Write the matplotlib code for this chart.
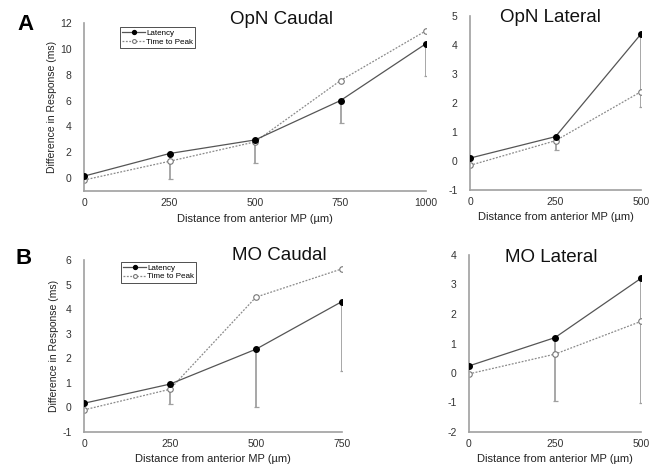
import numpy as np
import matplotlib
matplotlib.use("Agg")
import matplotlib.pyplot as plt

plt.rcParams['font.family'] = ['Liberation Sans', 'DejaVu Sans']
plt.rcParams['axes.unicode_minus'] = False

# OpN Caudal
opn_caudal_x = [0, 250, 500, 750, 1000]
opn_caudal_latency = [0.15, 1.9, 2.95, 6.0, 10.4]
opn_caudal_ttp = [-0.15, 1.3, 2.8, 7.55, 11.4]
opn_caudal_err = [0.0, 2.0, 1.75, 1.75, 2.5]

# OpN Lateral
opn_lateral_x = [0, 250, 500]
opn_lateral_latency = [0.1, 0.84, 4.38]
opn_lateral_ttp = [-0.15, 0.7, 2.39]
opn_lateral_err = [0.0, 0.46, 2.53]

# MO Caudal
mo_caudal_x = [0, 250, 500, 750]
mo_caudal_latency = [0.17, 0.95, 2.37, 4.31]
mo_caudal_ttp = [-0.1, 0.74, 4.49, 5.64]
mo_caudal_err = [0.0, 0.81, 2.34, 2.84]

# MO Lateral
mo_lateral_x = [0, 250, 500]
mo_lateral_latency = [0.24, 1.2, 3.21]
mo_lateral_ttp = [-0.03, 0.64, 1.75]
mo_lateral_err = [0.0, 2.16, 4.21]

W, H = 659, 467
fig = plt.figure(figsize=(W / 100, H / 100), dpi=100)


def px_axes(x0, x1, ytop, ybot):
    return fig.add_axes([x0 / W, 1 - ybot / H, (x1 - x0) / W, (ybot - ytop) / H])


def draw(ax, x, lat, ttp, err, xlim, ylim, yticks, ylabel=False):
    x = np.array(x)
    err = np.array(err)
    ax.errorbar(x, lat, yerr=[err, np.zeros_like(err)], fmt='none',
                ecolor='#a0a0a0', elinewidth=1.3, capsize=1.8, capthick=0.9, zorder=1)
    ax.plot(x, ttp, linestyle=(0, (1.5, 1.2)), color='#8a8a8a', lw=0.9,
            marker='o', ms=4, mfc='white', mec='#777777', mew=0.8,
            label='Time to Peak', zorder=2)
    ax.plot(x, lat, linestyle='-', color='#555555', lw=0.9,
            marker='o', ms=4, mfc='black', mec='black',
            label='Latency', zorder=3)
    ax.set_xlim(*xlim)
    ax.set_ylim(*ylim)
    ax.set_xticks(x)
    ax.set_yticks(yticks)
    for s in ['top', 'right']:
        ax.spines[s].set_visible(False)
    for s in ['left', 'bottom']:
        ax.spines[s].set_color('#a0a0a0')
        ax.spines[s].set_linewidth(1.2)
    ax.tick_params(length=0, labelsize=7.5, labelcolor='#333333')
    ax.tick_params(axis='y', pad=9)
    ax.tick_params(axis='x', pad=5)
    ax.set_xlabel('Distance from anterior MP (µm)', fontsize=8, color='#222222', labelpad=4)
    if ylabel:
        ax.set_ylabel('Difference in Response (ms)', fontsize=7.5, color='#222222', labelpad=2)
    ax.patch.set_alpha(0)


def add_legend(ax, x0, y0):
    h, l = ax.get_legend_handles_labels()
    leg = ax.legend(h[::-1], l[::-1], loc='upper left', bbox_to_anchor=(x0 / W, 1 - y0 / H),
                    bbox_transform=fig.transFigure, fontsize=5.8, frameon=True,
                    fancybox=False, edgecolor='#333333', framealpha=1,
                    handlelength=2.9, handletextpad=0.1, borderpad=0.25,
                    labelspacing=0.15, borderaxespad=0, markerscale=0.7)
    leg.get_frame().set_linewidth(0.6)


ax1 = px_axes(84, 426, 23, 191)
draw(ax1, opn_caudal_x, opn_caudal_latency, opn_caudal_ttp, opn_caudal_err,
     (0, 1000), (-1, 12), [0, 2, 4, 6, 8, 10, 12], ylabel=True)
add_legend(ax1, 120, 27)

ax2 = px_axes(470, 641, 16, 190)
draw(ax2, opn_lateral_x, opn_lateral_latency, opn_lateral_ttp, opn_lateral_err,
     (0, 500), (-1, 5), [-1, 0, 1, 2, 3, 4, 5])

ax3 = px_axes(84, 342, 260, 432)
draw(ax3, mo_caudal_x, mo_caudal_latency, mo_caudal_ttp, mo_caudal_err,
     (0, 750), (-1, 6), [-1, 0, 1, 2, 3, 4, 5, 6], ylabel=True)
add_legend(ax3, 121, 262)

ax4 = px_axes(469, 641, 255, 432)
draw(ax4, mo_lateral_x, mo_lateral_latency, mo_lateral_ttp, mo_lateral_err,
     (0, 500), (-2, 4), [-2, -1, 0, 1, 2, 3, 4])

# titles
for (cx, cy, t) in [(282, 20, 'OpN Caudal'), (550, 18, 'OpN Lateral'),
                    (279, 255, 'MO Caudal'), (551, 257, 'MO Lateral')]:
    fig.text(cx / W, 1 - cy / H, t, fontsize=13.5, ha='center', va='center', color='#111111')

# panel letters
fig.text(25 / W, 1 - 25 / H, 'A', fontsize=16, fontweight='bold', ha='center', va='center')
fig.text(24 / W, 1 - 258 / H, 'B', fontsize=16, fontweight='bold', ha='center', va='center')

fig.savefig('out.png', dpi=100)
